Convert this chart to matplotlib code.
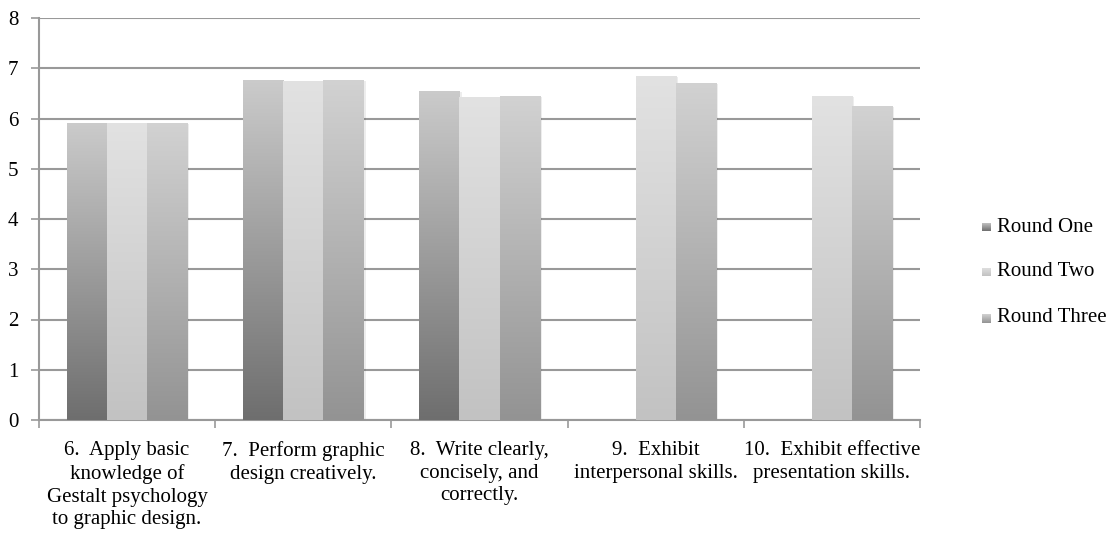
import matplotlib
matplotlib.use("Agg")
import matplotlib.pyplot as plt
import numpy as np
from matplotlib.patches import Rectangle
from matplotlib.colors import LinearSegmentedColormap

plt.rcParams['font.family'] = ['Liberation Serif', 'DejaVu Serif']

categories = [
    "6.  Apply basic\nknowledge of\nGestalt psychology\nto graphic design.",
    "7.  Perform graphic\ndesign creatively.",
    "8.  Write clearly,\nconcisely, and\ncorrectly.",
    "9.  Exhibit\ninterpersonal skills.",
    "10.  Exhibit effective\npresentation skills.",
]
series_names = ["Round One", "Round Two", "Round Three"]
round_one = [5.92, 6.77, 6.55, np.nan, np.nan]
round_two = [5.92, 6.75, 6.43, 6.85, 6.45]
round_three = [5.92, 6.77, 6.45, 6.71, 6.25]
series_values = [round_one, round_two, round_three]

# gradient (bottom colour, top colour)
grads = [("#6e6e6e", "#cbcbcb"), ("#c2c2c2", "#e2e2e2"), ("#939393", "#d2d2d2")]

fig = plt.figure(figsize=(11.09, 5.34), dpi=100)
ax = fig.add_axes([39/1109, 1-420/534, (920-39)/1109, (420-18)/534])

n = len(categories)
x = np.arange(n)
bw = 0.228
offsets = [-bw, 0, bw]

grad = np.linspace(0, 1, 256).reshape(-1, 1)
cmaps = [LinearSegmentedColormap.from_list("g%d" % si, [g[0], g[1]]) for si, g in enumerate(grads)]

for si, vals in enumerate(series_values):
    for i, v in enumerate(vals):
        if np.isnan(v):
            continue
        left = x[i] + offsets[si] - bw / 2
        sh = Rectangle((left + 0.012, 0), bw, v - 0.02, facecolor="#000000", alpha=0.07,
                       edgecolor="none", zorder=2)
        ax.add_patch(sh)
        rect = Rectangle((left, 0), bw, v, facecolor="none", edgecolor="none", zorder=3)
        ax.add_patch(rect)
        im = ax.imshow(grad, cmap=cmaps[si], aspect="auto", origin="lower",
                       extent=(left, left + bw, 0, v), zorder=3, interpolation="bicubic")
        im.set_clip_path(rect)

ax.set_xlim(-0.5, n - 0.5)
ax.set_ylim(0, 8)

ax.set_yticks(range(0, 9))
ax.yaxis.grid(True, color="#999999", linewidth=1.5, zorder=1)
ax.set_axisbelow(True)
ax.tick_params(axis="y", length=6, width=1.2, color="#999999", labelsize=15, pad=9,
               labelcolor="black")

ax.set_xticks(x)
ax.set_xticklabels(categories, fontsize=15, linespacing=1.27)
ax.tick_params(axis="x", length=0, pad=15)
ax.set_xticks(np.arange(-0.5, n, 1), minor=True)
ax.tick_params(axis="x", which="minor", length=6, width=1.2, color="#999999")

for s in ["top", "right"]:
    ax.spines[s].set_visible(False)
ax.spines["left"].set_color("#999999")
ax.spines["left"].set_linewidth(1.5)
ax.spines["bottom"].set_color("#999999")
ax.spines["bottom"].set_linewidth(1.5)

# legend with gradient squares
leg_x = 982 / 1109
leg_rows = [227, 272, 318]
for si, name in enumerate(series_names):
    yc = 1 - leg_rows[si] / 534
    sq = fig.add_axes([leg_x, yc - 4.5 / 534, 8 / 1109, 9 / 534])
    sq.imshow(grad, cmap=cmaps[si], aspect="auto", origin="lower", extent=(0, 1, 0, 1))
    sq.set_axis_off()
    fig.text(997 / 1109, yc, name, fontsize=15, va="center", ha="left")

fig.savefig("out.png", dpi=100)
